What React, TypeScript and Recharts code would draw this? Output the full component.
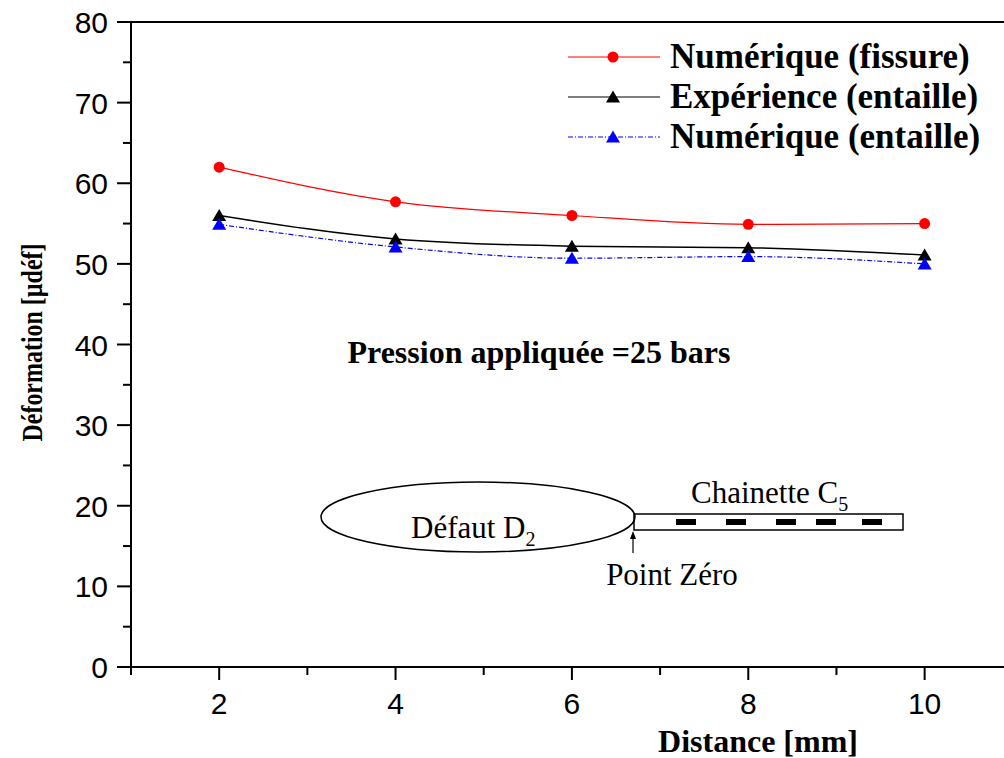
import { Label, Line, LineChart, ReferenceLine, XAxis, YAxis } from 'recharts'

const distance = [2, 4, 6, 8, 10]
const numeriqueFissure = [62.0, 57.7, 56.0, 54.9, 55.0]
const experienceEntaille = [56.0, 53.1, 52.2, 52.0, 51.1]
const numeriqueEntaille = [54.9, 52.1, 50.7, 50.9, 50.0]

const xTicks = [1, 2, 3, 4, 5, 6, 7, 8, 9, 10]
const xLabels = [2, 4, 6, 8, 10]
const yTicks = [0, 5, 10, 15, 20, 25, 30, 35, 40, 45, 50, 55, 60, 65, 70, 75, 80]
const yLabels = [0, 10, 20, 30, 40, 50, 60, 70, 80]

const seriesNames = ['Numérique (fissure)', 'Expérience (entaille)', 'Numérique (entaille)']

const data = distance.map((d, i) => ({
  d,
  fissure: numeriqueFissure[i],
  exp: experienceEntaille[i],
  entaille: numeriqueEntaille[i],
}))

const SANS = '"Liberation Sans", Arial, sans-serif'
const SERIF = '"Liberation Serif", "Times New Roman", serif'
const TICK_SIZE = 14
const X_MARGIN = 12
const Y_MARGIN = 9

const XTick = (props: any) => {
  const { x, y, payload } = props
  const axisY = y - TICK_SIZE - X_MARGIN
  const major = xLabels.includes(payload.value)
  return (
    <g>
      <line x1={x} x2={x} y1={axisY} y2={axisY + (major ? 13 : 8)} stroke="#000" strokeWidth={2} />
      {major && (
        <text x={x} y={axisY + 47} textAnchor="middle" fontFamily={SANS} fontSize={30} fill="#000">
          {payload.value}
        </text>
      )}
    </g>
  )
}

const YTick = (props: any) => {
  const { x, y, payload } = props
  const axisX = x + TICK_SIZE + Y_MARGIN
  const major = yLabels.includes(payload.value)
  return (
    <g>
      <line x1={axisX} x2={axisX - (major ? 14 : 8)} y1={y} y2={y} stroke="#000" strokeWidth={2} />
      {major && (
        <text x={axisX - 23} y={y + 11} textAnchor="end" fontFamily={SANS} fontSize={30} fill="#000">
          {payload.value}
        </text>
      )}
    </g>
  )
}

const Circle = (props: any) => {
  const { cx, cy, fill } = props
  if (cx == null || cy == null) return null
  return <circle cx={cx} cy={cy} r={5.5} fill={fill} />
}

const Triangle = (props: any) => {
  const { cx, cy, fill } = props
  if (cx == null || cy == null) return null
  return <polygon points={`${cx},${cy - 6.5} ${cx - 7},${cy + 5.5} ${cx + 7},${cy + 5.5}`} fill={fill} />
}

const legendItems = [
  { name: seriesNames[0], color: '#ff0000', dash: undefined, marker: 'circle' },
  { name: seriesNames[1], color: '#000000', dash: undefined, marker: 'tri' },
  { name: seriesNames[2], color: '#0000ff', dash: '5 2 1 2', marker: 'tri' },
]

export default function App() {
  return (
    <div style={{ position: 'absolute', left: 0, top: 0, width: 1004, height: 758, overflow: 'hidden', background: '#fff' }}>
      <LineChart width={1004} height={758} data={data} margin={{ top: 22, right: 0, bottom: 0, left: 0 }}>
        <XAxis
          dataKey="d"
          type="number"
          domain={[1, 10.9]}
          ticks={xTicks}
          interval={0}
          allowDataOverflow
          height={91}
          stroke="#000"
          strokeWidth={2}
          tickLine={false}
          tickSize={TICK_SIZE}
          tickMargin={X_MARGIN}
          tick={<XTick />}
        >
          <Label
            content={({ viewBox }: any) => (
              <text x={758} y={viewBox.y + 85} textAnchor="middle" fontFamily={SERIF} fontWeight="bold" fontSize={32} fill="#000">
                Distance [mm]
              </text>
            )}
          />
        </XAxis>
        <YAxis
          type="number"
          domain={[0, 80]}
          ticks={yTicks}
          interval={0}
          width={131}
          stroke="#000"
          strokeWidth={2}
          tickLine={false}
          tickSize={TICK_SIZE}
          tickMargin={Y_MARGIN}
          tick={<YTick />}
        >
          <Label
            content={({ viewBox }: any) => {
              const cy = viewBox.y + viewBox.height / 2 - 2
              return (
                <text
                  x={42}
                  y={cy}
                  transform={`rotate(-90, 42, ${cy})`}
                  textAnchor="middle"
                  fontFamily={SERIF}
                  fontWeight="bold"
                  fontSize={30}
                  textLength={198}
                  lengthAdjust="spacingAndGlyphs"
                  fill="#000"
                >
                  Déformation [µdéf]
                </text>
              )
            }}
          />
        </YAxis>
        <ReferenceLine y={80} stroke="#000" strokeWidth={2} ifOverflow="visible" />
        <Line
          type="monotone"
          dataKey="fissure"
          name={seriesNames[0]}
          stroke="#ff0000"
          strokeWidth={1.2}
          dot={<Circle fill="#ff0000" />}
          isAnimationActive={false}
        />
        <Line
          type="monotone"
          dataKey="exp"
          name={seriesNames[1]}
          stroke="#000000"
          strokeWidth={1.5}
          dot={<Triangle fill="#000000" />}
          isAnimationActive={false}
        />
        <Line
          type="monotone"
          dataKey="entaille"
          name={seriesNames[2]}
          stroke="#0000ff"
          strokeWidth={1.2}
          strokeDasharray="5 2 1 2"
          dot={<Triangle fill="#0000ff" />}
          isAnimationActive={false}
        />
      </LineChart>
      <svg width={1004} height={758} style={{ position: 'absolute', left: 0, top: 0, pointerEvents: 'none' }}>
        {/* legend */}
        {legendItems.map((it, i) => {
          const cy = 57 + i * 40
          return (
            <g key={it.name}>
              <line x1={568} x2={660} y1={cy} y2={cy} stroke={it.color} strokeWidth={1.2} strokeDasharray={it.dash} />
              {it.marker === 'circle' ? (
                <circle cx={613} cy={cy} r={5.5} fill={it.color} />
              ) : (
                <polygon points={`613,${cy - 6.5} 606,${cy + 5.5} 620,${cy + 5.5}`} fill={it.color} />
              )}
              <text x={670} y={cy + 11} fontFamily={SERIF} fontWeight="bold" fontSize={35} fill="#000">
                {it.name}
              </text>
            </g>
          )
        })}
        <text x={539} y={363} textAnchor="middle" fontFamily={SERIF} fontWeight="bold" fontSize={32} fill="#000">
          Pression appliquée =25 bars
        </text>
        <ellipse cx={478} cy={517} rx={157} ry={35} fill="none" stroke="#000" strokeWidth={1.5} />
        <text x={411} y={538} fontFamily={SERIF} fontSize={31} fill="#000">
          Défaut D<tspan dy={8} fontSize={20}>2</tspan>
        </text>
        <rect x={634} y={514} width={269} height={16} fill="none" stroke="#000" strokeWidth={1.5} />
        {[676, 726, 776, 816, 862].map((x) => (
          <rect key={x} x={x} y={519} width={20} height={6} fill="#000" />
        ))}
        <text x={691} y={503} fontFamily={SERIF} fontSize={31} fill="#000">
          Chainette C<tspan dy={8} fontSize={20}>5</tspan>
        </text>
        <line x1={633} y1={553} x2={633} y2={537} stroke="#000" strokeWidth={1.2} />
        <polygon points="633,531 630,539 636,539" fill="#000" />
        <text x={672} y={585} textAnchor="middle" fontFamily={SERIF} fontSize={31} fill="#000">
          Point Zéro
        </text>
      </svg>
    </div>
  )
}
